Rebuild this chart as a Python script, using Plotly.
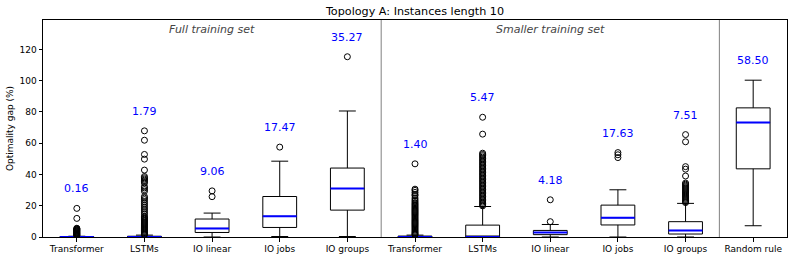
import plotly.graph_objects as go

# ---------------- data ----------------
tick_labels = ["Transformer", "LSTMs", "IO linear", "IO jobs", "IO groups",
               "Transformer", "LSTMs", "IO linear", "IO jobs", "IO groups",
               "Random rule"]
section_labels = ["Full training set", "Smaller training set"]
section_sizes = [5, 5, 1]

q1 = [0.0, 0.0, 2.9, 6.1, 17.2, 0.0, 0.0, 1.5, 7.7, 1.9, 43.6]
median = [0.0, 0.0, 5.5, 13.2, 31.0, 0.0, 0.0, 2.9, 12.3, 4.2, 73.2]
q3 = [0.2, 0.5, 11.5, 25.9, 44.1, 0.6, 7.6, 4.2, 20.4, 9.8, 82.6]
lower_whisker = [0.0, 0.0, 0.0, 0.3, 0.3, 0.0, 0.0, 0.0, 0.0, 0.0, 7.2]
upper_whisker = [0.5, 1.2, 15.3, 48.5, 80.6, 1.2, 19.5, 8.0, 30.2, 21.5, 100.3]
mean_labels = ["0.16", "1.79", "9.06", "17.47", "35.27",
               "1.40", "5.47", "4.18", "17.63", "7.51", "58.50"]

full_transformer_out = [18.3, 11.9, 5.6, 5.3, 5.0, 4.7, 4.4, 4.1, 3.8, 3.5, 3.2,
                        2.9, 2.6, 2.3, 2.0, 1.7, 1.4, 1.1, 0.9]
full_lstm_out = [67.9, 61.9, 52.8, 49.8, 42.8, 38.7, 37.9, 37.1, 36.3, 35.5, 34.6,
                 32.3, 31.4, 30.3, 29.2, 25.9, 24.9, 23.9, 22.7, 21.5, 20.3, 19.1,
                 17.9, 16.8, 15.6, 14.5, 13.2, 12.6, 12.0, 11.4, 10.8, 10.2, 9.6,
                 9.0, 8.4, 7.8, 7.2, 6.6, 6.0, 5.4, 4.8, 4.2, 3.6, 3.0, 2.4, 1.8, 1.4]
full_io_linear_out = [29.5, 25.8]
full_io_jobs_out = [57.5]
full_io_groups_out = [115.3]
small_transformer_out = [46.8, 30.6, 29.8, 28.5, 27.2, 26.4, 24.9, 23.8, 22.9, 22.0,
                         21.2, 20.5, 19.8, 19.1, 18.4, 17.7, 17.0, 16.3, 15.6, 14.9,
                         14.2, 13.5, 12.8, 12.1, 11.4, 10.7, 10.0, 9.3, 8.6, 7.9,
                         7.2, 6.5, 5.8, 5.1, 4.4, 3.7, 3.0, 2.4, 1.8, 1.4]
small_lstm_out = [76.6, 65.8, 53.6, 52.8, 52.0, 51.1, 50.2, 49.3, 48.4, 47.5, 46.6,
                  45.7, 44.8, 43.9, 43.0, 42.1, 41.2, 40.3, 39.4, 38.5, 37.6, 36.7,
                  35.8, 34.9, 34.0, 33.1, 32.2, 31.3, 30.4, 29.5, 28.6, 27.7, 26.8,
                  25.9, 25.0, 24.1, 23.2, 22.3, 21.4, 20.6, 19.9]
small_io_linear_out = [23.8, 9.8]
small_io_jobs_out = [54.0, 52.6, 50.8]
small_io_groups_out = [65.5, 60.9, 45.0, 43.4, 39.0, 34.5, 33.8, 33.1, 32.4, 31.7,
                       31.0, 30.3, 29.6, 28.9, 28.2, 27.5, 26.8, 26.1, 25.4, 24.7,
                       24.0, 23.3, 22.6, 22.0]
random_rule_out = []

outliers = [full_transformer_out, full_lstm_out, full_io_linear_out, full_io_jobs_out,
            full_io_groups_out, small_transformer_out, small_lstm_out,
            small_io_linear_out, small_io_jobs_out, small_io_groups_out,
            random_rule_out]

title = "Topology A: Instances length 10"
y_title = "Optimality gap (%)"
y_ticks = [0, 20, 40, 60, 80, 100, 120]

# ---------------- build ----------------
FONT = "DejaVu Sans"
positions = list(range(1, len(tick_labels) + 1))
box_w = 0.5

fig = go.Figure()

fig.add_trace(go.Box(
    x=positions, q1=q1, median=median, q3=q3,
    lowerfence=lower_whisker, upperfence=upper_whisker,
    width=box_w, whiskerwidth=0.5,
    line=dict(color="black", width=1), fillcolor="rgba(255,255,255,0)",
    boxpoints=False, showlegend=False, hoverinfo="skip",
))

# blue medians
mx, my = [], []
for p, m in zip(positions, median):
    mx += [p - box_w / 2, p + box_w / 2, None]
    my += [m, m, None]
fig.add_trace(go.Scatter(x=mx, y=my, mode="lines",
                         line=dict(color="blue", width=2),
                         showlegend=False, hoverinfo="skip"))

# outliers
ox, oy = [], []
for p, vals in zip(positions, outliers):
    ox += [p] * len(vals)
    oy += vals
fig.add_trace(go.Scatter(x=ox, y=oy, mode="markers",
                         marker=dict(symbol="circle-open", size=6,
                                     color="black", line=dict(width=1)),
                         showlegend=False, hoverinfo="skip"))

# mean labels above the highest point
for p, vals, uw, lab in zip(positions, outliers, upper_whisker, mean_labels):
    top = max(vals + [uw])
    fig.add_annotation(x=p, y=top + 12.5, text=lab, showarrow=False,
                       font=dict(family=FONT, size=11, color="blue"))

# separators and section labels
edge = 0.5
centers = []
for i, n in enumerate(section_sizes):
    start = edge
    edge += n
    centers.append((start + edge) / 2)
    if i < len(section_sizes) - 1:
        fig.add_shape(type="line", xref="x", yref="paper", x0=edge, x1=edge,
                      y0=0, y1=1, line=dict(color="#808080", width=1))
for c, lab in zip(centers, section_labels):
    fig.add_annotation(x=c, y=1, xref="x", yref="paper", yanchor="top", yshift=-1,
                       text="<i>" + lab + "</i>", showarrow=False,
                       font=dict(family=FONT, size=11, color="#444444"))

fig.update_layout(
    width=793, height=260,
    margin=dict(l=43, r=6, t=20, b=23),
    paper_bgcolor="white", plot_bgcolor="white",
    font=dict(family=FONT, size=9, color="black"),
    title=dict(text=title, x=0.5, xref="paper", y=1 - 11 / 260, yref="container",
               yanchor="middle", xanchor="center",
               font=dict(family=FONT, size=11.2, color="black")),
    showlegend=False,
)
fig.update_xaxes(range=[0.5, len(tick_labels) + 0.5], tickvals=positions,
                 ticktext=tick_labels, showgrid=False, zeroline=False,
                 showline=True, mirror=True, linecolor="black", linewidth=1,
                 ticks="outside", ticklen=3.5, tickcolor="black",
                 tickfont=dict(family=FONT, size=9, color="black"))
fig.update_yaxes(range=[0, 138.8], tickvals=y_ticks, showgrid=False, zeroline=False,
                 showline=True, mirror=True, linecolor="black", linewidth=1,
                 ticks="outside", ticklen=3.5, tickcolor="black",
                 tickfont=dict(family=FONT, size=9, color="black"),
                 title=dict(text=y_title, font=dict(family=FONT, size=9, color="black"),
                            standoff=4))

fig.write_html("out.html", config={"displayModeBar": False},
               post_script="document.body.style.margin='0';document.body.style.padding='0';")
